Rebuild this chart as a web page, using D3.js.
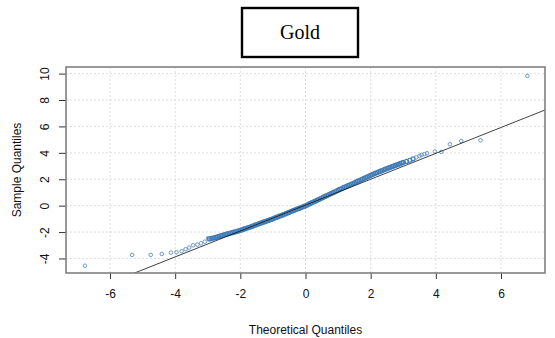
<!DOCTYPE html>
<html>
<head>
<meta charset="utf-8">
<script src="https://cdn.jsdelivr.net/npm/d3@7"></script>
<style>
  html, body { margin: 0; padding: 0; background: #fff; }
  svg { display: block; }
</style>
</head>
<body>
<svg id="chart" width="555" height="338"></svg>
<script>
// Normal Q-Q plot of gold returns: theoretical vs. sample quantiles
const titleText = "Gold";
const xLabel = "Theoretical Quantiles";
const yLabel = "Sample Quantiles";
const xTicks = [-6, -4, -2, 0, 2, 4, 6];
const yTicks = [-4, -2, 0, 2, 4, 6, 8, 10];

// Reference line (qqline): sample = intercept + slope * theoretical
const lineIntercept = 0.04;
const lineSlope = 0.98;

// Lower tail
const tailLowX = [-6.77, -5.32, -4.75, -4.41, -4.13, -3.96, -3.80, -3.68, -3.57, -3.45, -3.32, -3.21, -3.09, -2.99];
const tailLowY = [-4.55, -3.73, -3.73, -3.66, -3.56, -3.53, -3.45, -3.30, -3.18, -3.00, -2.95, -2.85, -2.73, -2.47];

// Central body of the distribution
const bodyX = [
  -2.95, -2.90, -2.85, -2.80, -2.75, -2.70, -2.65, -2.60, -2.55, -2.50,
  -2.45, -2.40, -2.35, -2.30, -2.25, -2.20, -2.15, -2.10, -2.05, -2.00,
  -1.95, -1.90, -1.85, -1.80, -1.75, -1.70, -1.65, -1.60, -1.55, -1.50,
  -1.45, -1.40, -1.35, -1.30, -1.25, -1.20, -1.15, -1.10, -1.05, -1.00,
  -0.95, -0.90, -0.85, -0.80, -0.75, -0.70, -0.65, -0.60, -0.55, -0.50,
  -0.45, -0.40, -0.35, -0.30, -0.25, -0.20, -0.15, -0.10, -0.05, 0.00,
  0.05, 0.10, 0.15, 0.20, 0.25, 0.30, 0.35, 0.40, 0.45, 0.50,
  0.55, 0.60, 0.65, 0.70, 0.75, 0.80, 0.85, 0.90, 0.95, 1.00,
  1.05, 1.10, 1.15, 1.20, 1.25, 1.30, 1.35, 1.40, 1.45, 1.50,
  1.55, 1.60, 1.65, 1.70, 1.75, 1.80, 1.85, 1.90, 1.95, 2.00,
  2.05, 2.10, 2.15, 2.20, 2.25, 2.30, 2.35, 2.40, 2.45, 2.50,
  2.55, 2.60, 2.65, 2.70, 2.75, 2.80, 2.85, 2.90, 2.95, 3.00,
  3.10, 3.20, 3.30
];
const bodyY = [
  -2.52, -2.49, -2.46, -2.43, -2.40, -2.36, -2.33, -2.29, -2.25, -2.21,
  -2.18, -2.14, -2.11, -2.07, -2.05, -2.01, -1.98, -1.94, -1.91, -1.87,
  -1.83, -1.78, -1.74, -1.70, -1.66, -1.62, -1.57, -1.53, -1.48, -1.43,
  -1.39, -1.34, -1.30, -1.25, -1.22, -1.17, -1.13, -1.08, -1.04, -0.99,
  -0.94, -0.89, -0.84, -0.79, -0.75, -0.70, -0.65, -0.60, -0.55, -0.50,
  -0.45, -0.40, -0.35, -0.30, -0.25, -0.21, -0.16, -0.11, -0.06, -0.01,
  0.05, 0.11, 0.17, 0.23, 0.29, 0.34, 0.40, 0.46, 0.52, 0.58,
  0.64, 0.70, 0.76, 0.82, 0.88, 0.93, 0.99, 1.05, 1.11, 1.17,
  1.23, 1.28, 1.34, 1.40, 1.45, 1.51, 1.56, 1.62, 1.67, 1.73,
  1.79, 1.85, 1.90, 1.96, 2.01, 2.07, 2.13, 2.18, 2.24, 2.30,
  2.35, 2.41, 2.46, 2.51, 2.56, 2.61, 2.66, 2.71, 2.76, 2.81,
  2.86, 2.91, 2.95, 3.00, 3.05, 3.09, 3.13, 3.18, 3.23, 3.28,
  3.35, 3.44, 3.55
];

// Upper tail
const tailHighX = [3.40, 3.50, 3.56, 3.65, 3.73, 3.97, 4.17, 4.43, 4.78, 5.37, 6.81];
const tailHighY = [3.66, 3.76, 3.84, 3.90, 3.97, 4.10, 4.07, 4.65, 4.90, 4.95, 9.83];

const bodyPoints = bodyX.map((x, i) => ({ x, y: bodyY[i] }));
const tailPoints = [...tailLowX, ...tailHighX].map((x, i) => ({ x, y: [...tailLowY, ...tailHighY][i] }));

const svg = d3.select("#chart");
const plot = { left: 66, right: 545, top: 67, bottom: 273 };

const x = d3.scaleLinear().domain([-7.35, 7.35]).range([plot.left, plot.right]);
const y = d3.scaleLinear().domain([-5.1, 10.5]).range([plot.bottom, plot.top]);

const sans = "'Liberation Sans', Arial, sans-serif";
const fmt = d => String(d);

// Grid
const grid = svg.append("g").attr("stroke", "#d4d4d4").attr("stroke-width", 0.8)
  .attr("stroke-dasharray", "2,2");
grid.selectAll(".gx").data(xTicks).join("line")
  .attr("x1", d => x(d)).attr("x2", d => x(d))
  .attr("y1", plot.top).attr("y2", plot.bottom);
grid.selectAll(".gy").data(yTicks).join("line")
  .attr("y1", d => y(d)).attr("y2", d => y(d))
  .attr("x1", plot.left).attr("x2", plot.right);

// Clip region for marks
svg.append("clipPath").attr("id", "plotClip").append("rect")
  .attr("x", plot.left).attr("y", plot.top)
  .attr("width", plot.right - plot.left).attr("height", plot.bottom - plot.top);

const marks = svg.append("g").attr("clip-path", "url(#plotClip)");

// Points: the dense body overlaps into a solid band
marks.append("g").selectAll("circle").data(bodyPoints).join("circle")
  .attr("cx", d => x(d.x)).attr("cy", d => y(d.y)).attr("r", 2)
  .attr("fill", "none").attr("stroke", "#3f7cb8").attr("stroke-width", 1.2);
marks.append("g").selectAll("circle").data(tailPoints).join("circle")
  .attr("cx", d => x(d.x)).attr("cy", d => y(d.y)).attr("r", 1.8)
  .attr("fill", "none").attr("stroke", "#5a8fc4").attr("stroke-width", 0.9);

// Reference line
const [dx0, dx1] = x.domain();
marks.append("line")
  .attr("x1", x(dx0)).attr("y1", y(lineIntercept + lineSlope * dx0))
  .attr("x2", x(dx1)).attr("y2", y(lineIntercept + lineSlope * dx1))
  .attr("stroke", "#111").attr("stroke-width", 0.8);

// Axes
const xAxis = svg.append("g").attr("transform", `translate(0,${plot.bottom})`)
  .call(d3.axisBottom(x).tickValues(xTicks).tickSize(6).tickPadding(10).tickFormat(fmt));
xAxis.select(".domain").remove();
xAxis.selectAll(".tick line").attr("stroke", "#333");
xAxis.selectAll(".tick text").attr("font-family", sans).attr("font-size", 12).attr("fill", "#111");

const yAxis = svg.append("g").attr("transform", `translate(${plot.left},0)`)
  .call(d3.axisLeft(y).tickValues(yTicks).tickSize(7).tickFormat(fmt));
yAxis.select(".domain").remove();
yAxis.selectAll(".tick line").attr("stroke", "#333");
yAxis.selectAll(".tick text")
  .attr("font-family", sans).attr("font-size", 12).attr("fill", "#111")
  .attr("x", 0).attr("dy", null)
  .attr("text-anchor", "middle")
  .attr("transform", "translate(-21,0) rotate(-90)")
  .attr("dominant-baseline", "central");

// Frame
svg.append("rect")
  .attr("x", plot.left).attr("y", plot.top)
  .attr("width", plot.right - plot.left).attr("height", plot.bottom - plot.top)
  .attr("fill", "none").attr("stroke", "#808080").attr("stroke-width", 1.6);

// Axis titles
svg.append("text").attr("x", (plot.left + plot.right) / 2).attr("y", 330)
  .attr("text-anchor", "middle").attr("dominant-baseline", "central")
  .attr("font-family", sans).attr("font-size", 12).attr("fill", "#111")
  .text(xLabel);
svg.append("text")
  .attr("transform", `translate(17,${(plot.top + plot.bottom) / 2}) rotate(-90)`)
  .attr("text-anchor", "middle").attr("dominant-baseline", "central")
  .attr("font-family", sans).attr("font-size", 12).attr("fill", "#111")
  .text(yLabel);

// Boxed title
svg.append("rect").attr("x", 242).attr("y", 8).attr("width", 116).attr("height", 49)
  .attr("fill", "#fff").attr("stroke", "#000").attr("stroke-width", 2.4);
svg.append("text").attr("x", 300).attr("y", 32)
  .attr("text-anchor", "middle").attr("dominant-baseline", "central")
  .attr("font-family", "'Liberation Serif', 'Times New Roman', serif").attr("font-size", 20)
  .attr("fill", "#000").text(titleText);
</script>
</body>
</html>
